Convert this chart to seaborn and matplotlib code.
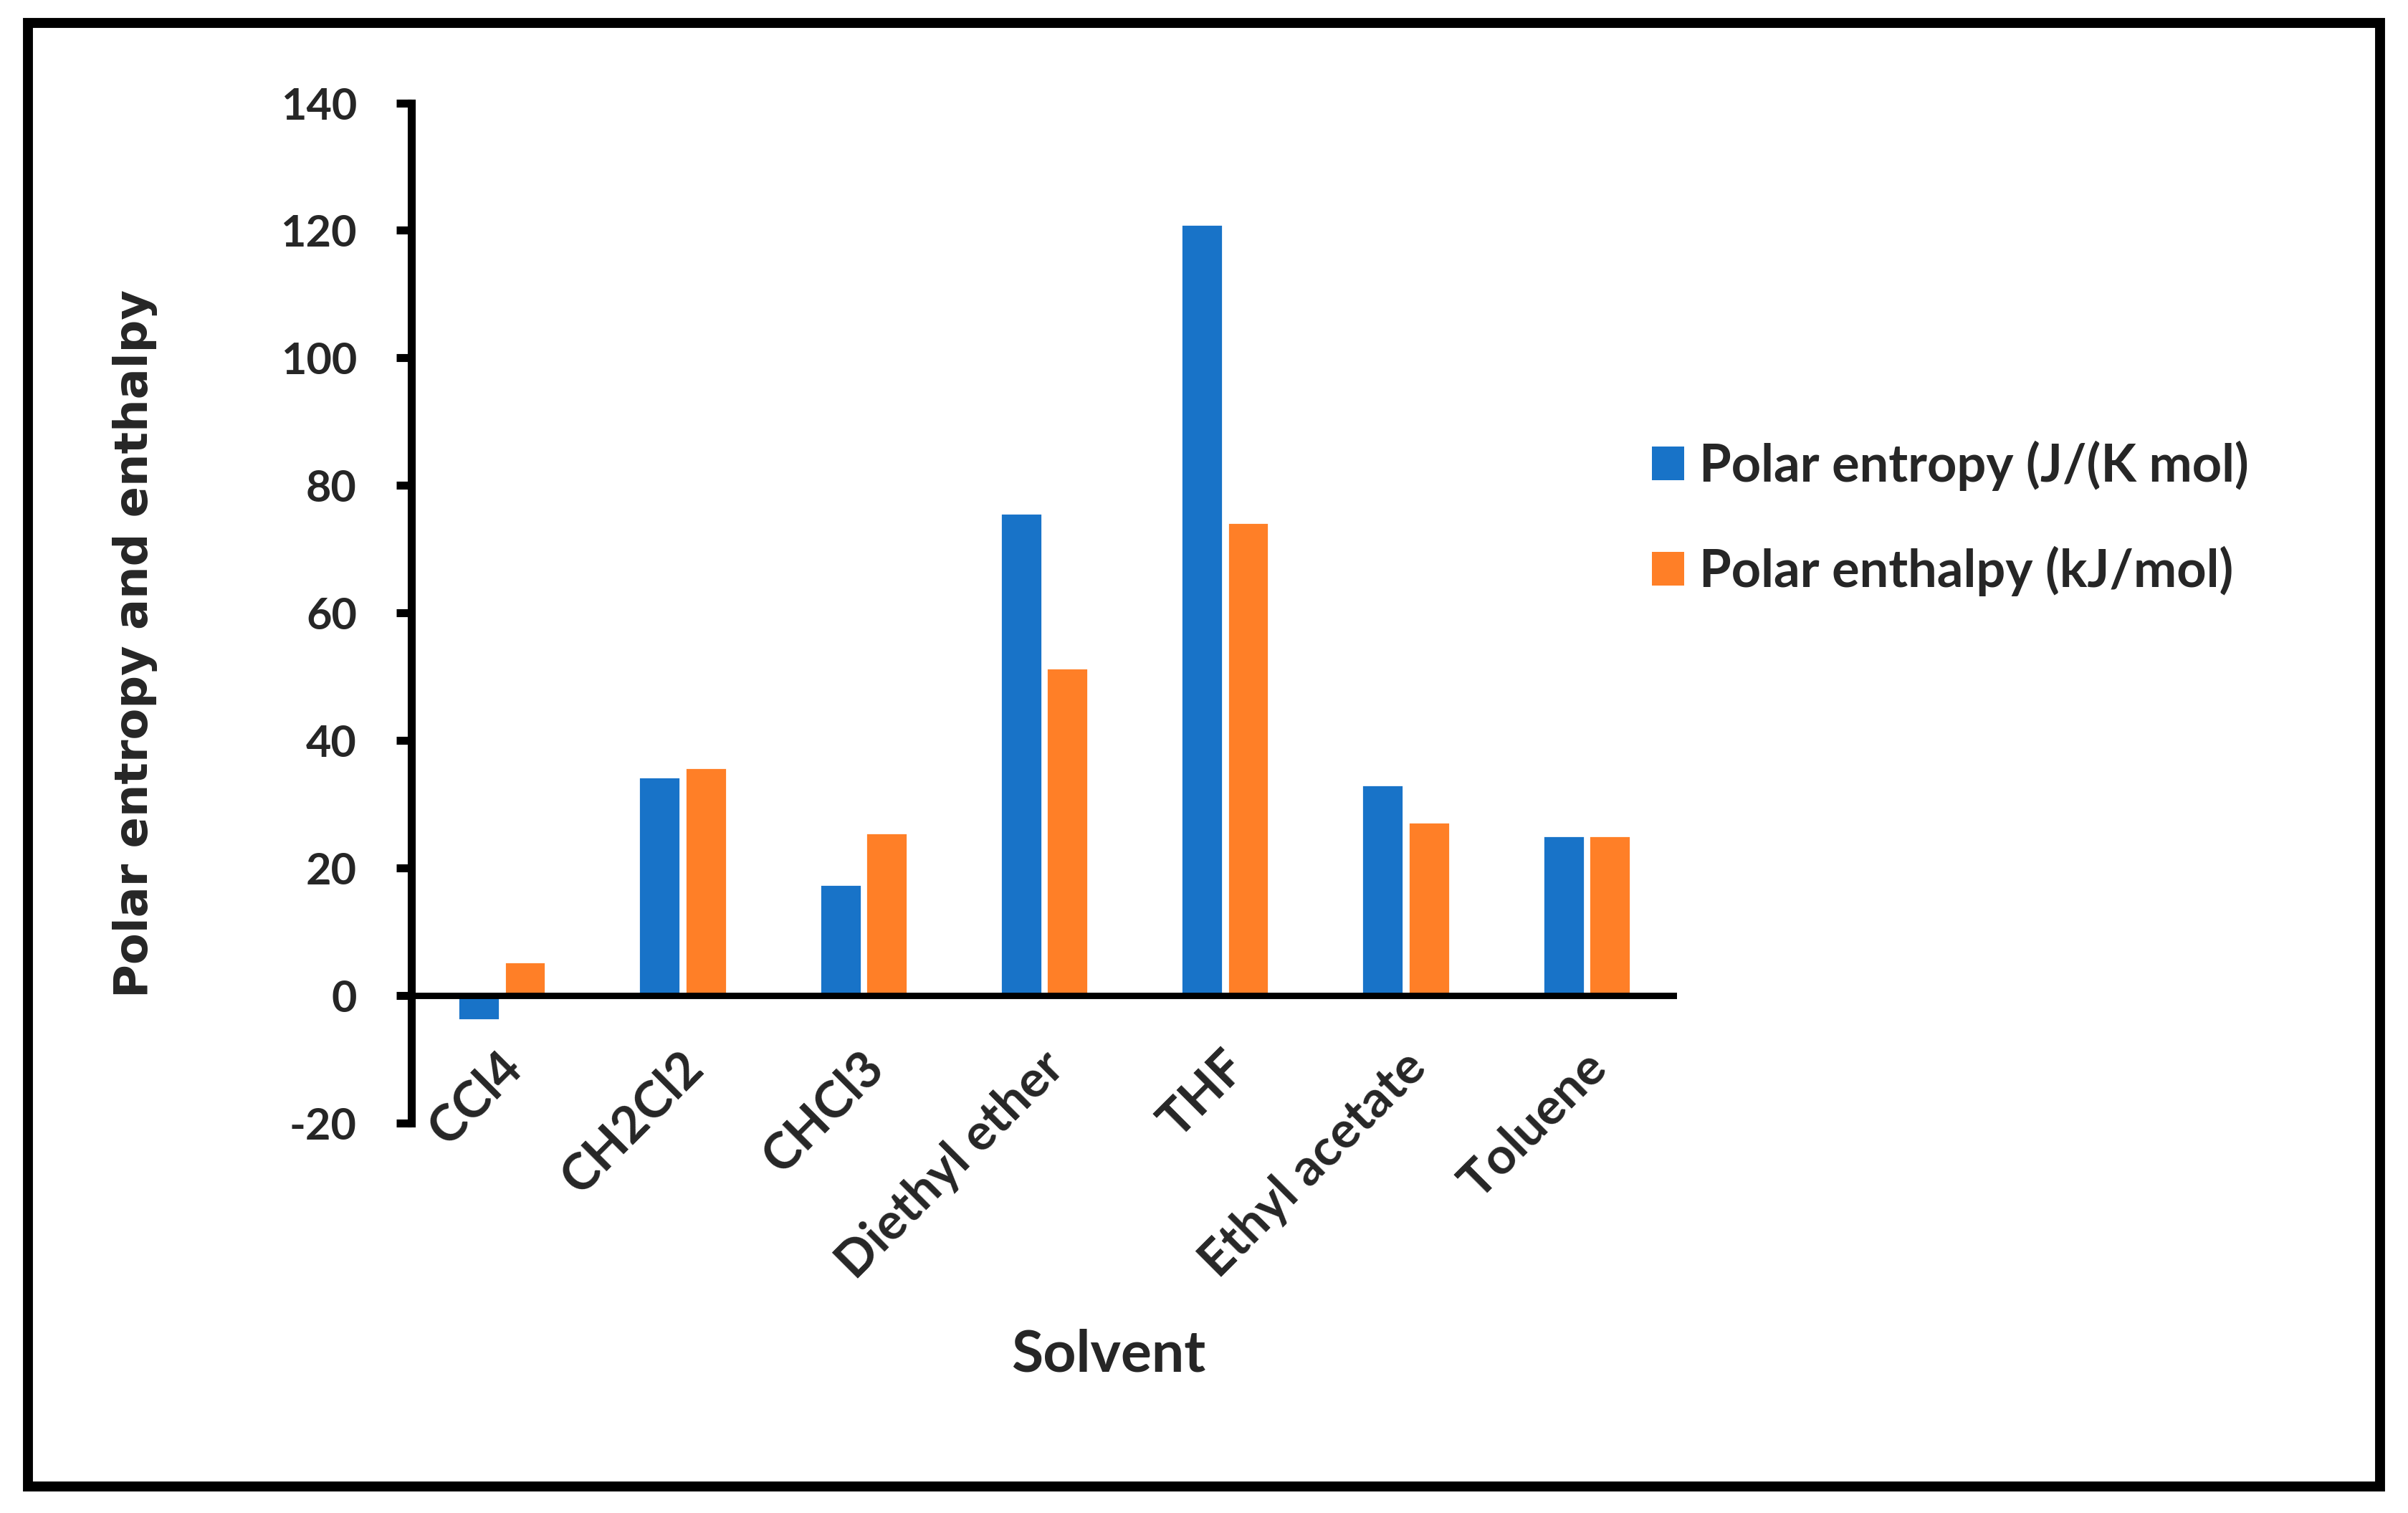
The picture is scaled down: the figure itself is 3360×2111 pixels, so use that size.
import pandas as pd
import numpy as np
import matplotlib
matplotlib.use("Agg")
import matplotlib.pyplot as plt
import seaborn as sns
from matplotlib.patches import Rectangle, Patch
from matplotlib.transforms import ScaledTranslation

# Data
solvents = ['CCl4', 'CH2Cl2', 'CHCl3', 'Diethyl ether', 'THF', 'Ethyl acetate', 'Toluene']
entropy = [-3.9, 34.3, 17.4, 75.6, 121.0, 33.0, 25.0]
enthalpy = [5.3, 35.7, 25.5, 51.3, 74.2, 27.2, 25.0]
series_names = ['Polar entropy (J/(K mol)', 'Polar enthalpy (kJ/mol)']
yticks = [-20, 0, 20, 40, 60, 80, 100, 120, 140]

df = pd.DataFrame({
    'Solvent': solvents * 2,
    'Series': [series_names[0]] * len(solvents) + [series_names[1]] * len(solvents),
    'Value': entropy + enthalpy,
})

sns.set_style('white')
plt.rcParams['font.family'] = ['Lato', 'DejaVu Sans']

fig = plt.figure(figsize=(16.8, 10.555), dpi=200)
ax = fig.add_axes([0.1709, 0.2579, 0.5255, 0.6741])

colors = ['#1873C8', '#FF7F27']
sns.barplot(data=df, x='Solvent', y='Value', hue='Series', hue_order=series_names,
            palette=colors, width=0.51, gap=0.1, saturation=1, ax=ax, legend=False)

ax.set_xlim(-0.5, 6.5)
ax.set_ylim(-20, 140)
ax.set_yticks(yticks)
ax.set_yticklabels([str(t) for t in yticks], fontsize=22, fontweight='bold')
ax.tick_params(axis='y', length=7.5, width=4, pad=20, left=True, color='black')

for s in ['top', 'right', 'bottom']:
    ax.spines[s].set_visible(False)
ax.spines['left'].set_linewidth(4)
ax.spines['left'].set_color('black')
ax.axhline(0, color='black', linewidth=3.2, zorder=5)

ax.set_xticks(range(len(solvents)))
ax.set_xticklabels(solvents, rotation=45, ha='right', rotation_mode='anchor',
                   fontsize=25.5, fontweight='bold')
ax.tick_params(axis='x', length=0, pad=-40)
shift = ScaledTranslation(-6 / 200, 0, fig.dpi_scale_trans)
for lbl in ax.get_xticklabels():
    lbl.set_transform(lbl.get_transform() + shift)

ax.set_xlabel('Solvent', fontsize=29, fontweight='bold', va='center')
ax.set_ylabel('Polar entropy and enthalpy', fontsize=23, fontweight='bold',
              family='DejaVu Sans', va='center', ha='center')
ax.yaxis.set_label_coords(-0.2184, 0.47)
ax.xaxis.set_label_coords(0.551, -0.2274)

handles = [Patch(facecolor=c, edgecolor='none') for c in colors]
ax.legend(handles, series_names, loc='upper left', bbox_to_anchor=(0.686, 0.709),
          bbox_transform=fig.transFigure, frameon=False, borderpad=0, borderaxespad=0,
          handlelength=0.62, handleheight=0.62, handletextpad=0.3, labelspacing=1.07,
          prop={'family': 'Lato', 'weight': 'bold', 'size': 26})

fig.patches.append(Rectangle((0.0115, 0.0173), 0.977, 0.9675, transform=fig.transFigure,
                             fill=False, edgecolor='black', linewidth=5, zorder=10))

fig.savefig('out.png', dpi=200, facecolor='white')
